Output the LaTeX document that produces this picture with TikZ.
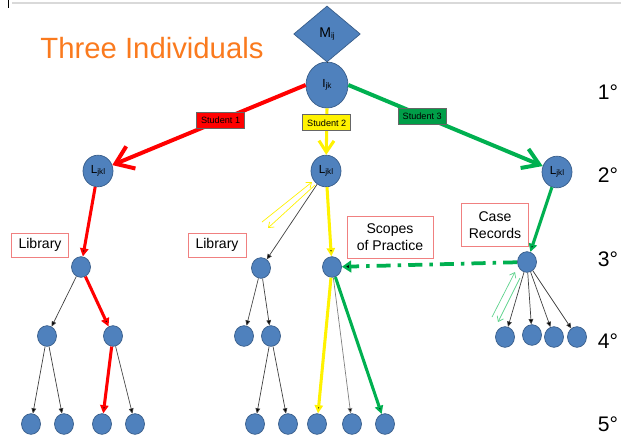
\documentclass[tikz,border=0pt]{standalone}
\usepackage{fontspec}
\setmainfont{Liberation Sans}
\usepackage{tikz}
\usetikzlibrary{arrows.meta,shapes.geometric,positioning}
\definecolor{knotenblau}{HTML}{4F81BD}
\definecolor{knotenrand}{HTML}{385D8A}
\definecolor{gruen}{HTML}{00B050}
\definecolor{hellgruen}{HTML}{5FD38D}
\definecolor{titelorange}{HTML}{FA7A1E}
\definecolor{boxrot}{HTML}{F08080}
\newcommand{\tief}[1]{\raisebox{-1.2pt}{\fontsize{7}{8}\selectfont #1}}

\begin{document}
\begin{tikzpicture}[x=0.03cm,y=-0.03cm,
	knoten/.style={ellipse,draw=knotenrand,fill=knotenblau,line width=0.6pt,minimum width=0.57cm,minimum height=0.62cm,inner sep=0pt},
	gross/.style={knoten,minimum width=0.9cm,minimum height=0.95cm,font=\fontsize{10}{11}\selectfont},
	textbox/.style={draw=boxrot,fill=white,line width=0.8pt,font=\fontsize{12}{14.5}\selectfont,align=center,inner sep=0pt},
	stufe/.style={font=\fontsize{18}{20}\selectfont},
	student/.style={draw=black!60,line width=0.5pt,font=\fontsize{7.8}{8}\selectfont,minimum width=1.44cm,minimum height=0.48cm,inner sep=0pt},
	duenn/.style={draw=black!75,line width=0.6pt,-{Triangle[length=4.5pt,width=4pt]}},
	rotdick/.style={draw=red,line width=2.6pt,-{Triangle[length=7pt,width=7pt]}},
	gelbdick/.style={draw=yellow,line width=2.6pt,-{Triangle[length=7pt,width=7pt]}},
	gruendick/.style={draw=gruen,line width=2.6pt,-{Triangle[length=7pt,width=7pt]}},
	doppel/.style={line width=0.6pt,-{Straight Barb[length=4pt,width=6pt]}}]
	% Rahmen
	\useasboundingbox (0,0) rectangle (621,436);
	\draw[black!15,line width=1.5pt] (12,3) -- (621,3);
	\draw[line width=0.6pt] (8,0) -- (8,8);
	% Texte
	\node (titel) at (152,48) [text=titelorange,font=\fontsize{25}{30}\selectfont] {Three Individuals};
	\node (s1) at (608,92) [stufe] {1°};
	\node (s2) at (608,175) [stufe] {2°};
	\node (s3) at (608,259) [stufe] {3°};
	\node (s4) at (608,341) [stufe] {4°};
	\node (s5) at (608,424) [stufe] {5°};
	% Knoten
	\node (m) at (327,34) [diamond,draw=knotenrand,fill=knotenblau,line width=0.6pt,minimum width=2cm,minimum height=1.68cm,inner sep=0pt,font=\fontsize{12}{13}\selectfont] {M\tief{ij}};
	\node (i) at (327,85) [knoten,minimum width=1.26cm,minimum height=1.38cm,font=\fontsize{10}{11}\selectfont] {I\tief{jk}};
	\node (21) at (98,171) [gross] {L\tief{jkl}};
	\node (22) at (326,171) [gross] {L\tief{jkl}};
	\node (23) at (557,172) [gross] {L\tief{jkl}};
	\node (31) at (81,267) [knoten] {};
	\node (32) at (261,268) [knoten] {};
	\node (33) at (332,267) [knoten] {};
	\node (34) at (527,262) [knoten] {};
	\node (41) at (47,336) [knoten] {};
	\node (42) at (113,336) [knoten] {};
	\node (43) at (244,336) [knoten] {};
	\node (44) at (271,336) [knoten] {};
	\node (45) at (505,337) [knoten] {};
	\node (46) at (532,335) [knoten] {};
	\node (47) at (554,337) [knoten] {};
	\node (48) at (577,337) [knoten] {};
	\node (51) at (31,424) [knoten] {};
	\node (52) at (64,424) [knoten] {};
	\node (53) at (102,424) [knoten] {};
	\node (54) at (135,424) [knoten] {};
	\node (55) at (255,424) [knoten] {};
	\node (56) at (288,424) [knoten] {};
	\node (57) at (317,424) [knoten] {};
	\node (58) at (352,424) [knoten] {};
	\node (59) at (385,424) [knoten] {};
	\node (bib1) at (40,245) [textbox,minimum width=1.71cm,minimum height=0.72cm] {Library};
	\node (bib2) at (217,245) [textbox,minimum width=1.74cm,minimum height=0.72cm] {Library};
	\node (scope) at (390,237) [textbox,minimum width=2.58cm,minimum height=1.26cm] {Scopes\\of Practice};
	\node (case) at (495,225) [textbox,minimum width=2.01cm,minimum height=1.29cm] {Case\\Records};
	\coordinate (ya1) at (262,222);
	\coordinate (ya2) at (312,182);
	\coordinate (yb1) at (315,185);
	\coordinate (yb2) at (268,228);
	\coordinate (ga1) at (492,317);
	\coordinate (ga2) at (515,272);
	\coordinate (gb1) at (520,278);
	\coordinate (gb2) at (498,322);
	% Kanten
	\draw[draw=black!75,line width=0.6pt] (m) -- (i);
	\draw[duenn] (22) edge (32);
	\draw[duenn] (31) edge (41);
	\draw[duenn] (41) edge (51);
	\draw[duenn] (41) edge (52);
	\draw[duenn] (42) edge (54);
	\draw[duenn] (32) edge (43);
	\draw[duenn] (32) edge (44);
	\draw[duenn] (44) edge (55);
	\draw[duenn] (44) edge (56);
	\draw[duenn,draw=black!50] (33) edge (58);
	\draw[duenn] (34) edge (45);
	\draw[duenn] (34) edge (46);
	\draw[duenn] (34) edge (47);
	\draw[duenn] (34) edge (48);
	\draw[doppel,draw=yellow] (ya1) -- (ya2);
	\draw[doppel,draw=yellow] (yb1) -- (yb2);
	\draw[doppel,draw=hellgruen] (ga1) -- (ga2);
	\draw[doppel,draw=hellgruen] (gb1) -- (gb2);
	\draw[rotdick] (21) edge (31);
	\draw[rotdick] (31) edge (42);
	\draw[rotdick] (42) edge (53);
	\draw[gelbdick] (22) edge (33);
	\draw[gelbdick] (33) edge (57);
	\draw[gruendick] (23) edge (34);
	\draw[gruendick] (33) edge (59);
	\draw[draw=gruen,line width=3.2pt,dash pattern=on 12pt off 6pt on 3pt off 6pt,-{Triangle[length=8pt,width=10pt]}] (34) edge (33);
	\draw[draw=red,line width=3.4pt,-{Straight Barb[length=0.5cm,width=0.72cm]}] (i.west) -- node[student,fill=red,pos=0.44] {Student 1} (21);
	\draw[draw=yellow,line width=2.6pt,-{Straight Barb[length=0.34cm,width=0.45cm]}] (i.south) -- node[student,fill=yellow,pos=0.31] {Student 2} (22);
	\draw[draw=gruen,line width=3.4pt,-{Straight Barb[length=0.48cm,width=0.62cm]}] (i.east) -- node[student,fill=gruen!90!black,pos=0.38] {Student 3} (23);
\end{tikzpicture}
\end{document}
